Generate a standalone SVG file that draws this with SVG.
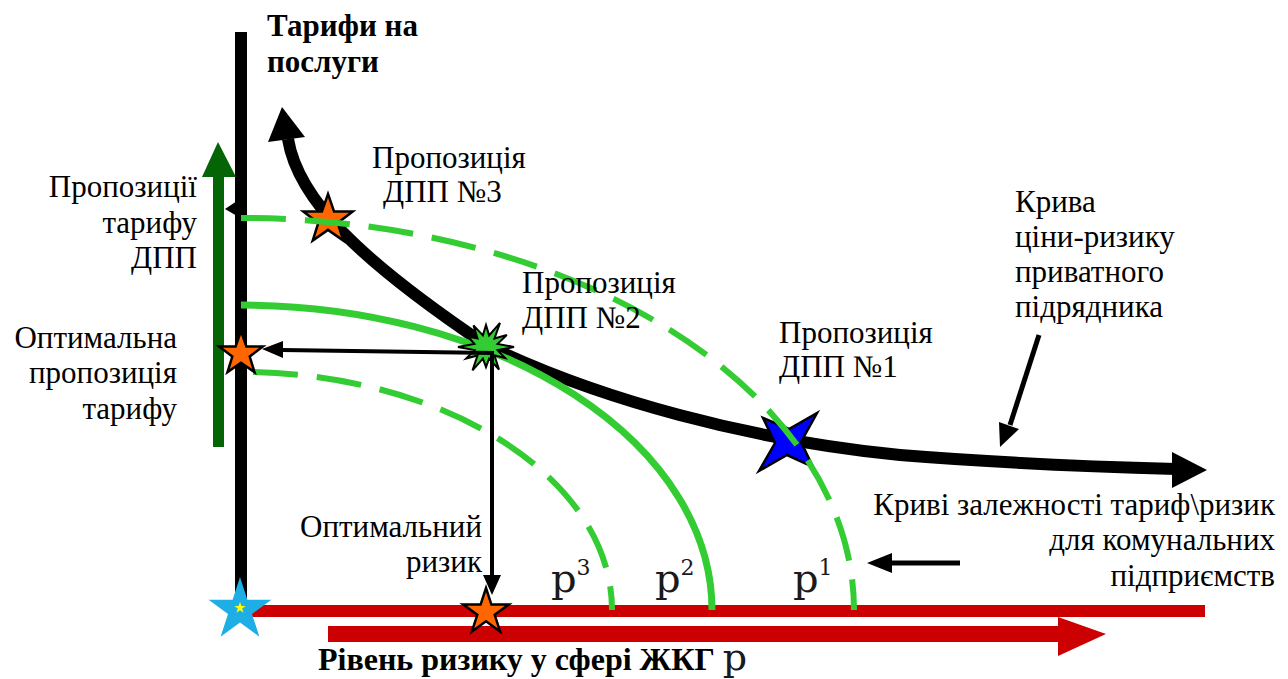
<svg xmlns="http://www.w3.org/2000/svg" width="1288" height="679" viewBox="0 0 1288 679">
<style>
.t{font-size:31px;fill:#000}
.b{font-weight:bold}
.e{text-anchor:end}
.gs{fill:none;stroke:#33CC33;stroke-width:7}
.gd{fill:none;stroke:#33CC33;stroke-width:6;stroke-dasharray:45 19}
.star{fill:#FF6600;stroke:#000;stroke-width:2.5;stroke-linejoin:miter}
</style>
<rect width="1288" height="679" fill="#fff"/>

<g id="axes">
  <rect x="235" y="32" width="12" height="575" fill="#000"/>
  <rect x="240" y="605" width="965" height="12" fill="#CC0000"/>
  <rect x="328" y="626" width="732" height="16" fill="#CC0000"/>
  <polygon points="1058,617 1106,634 1058,656" fill="#CC0000"/>
  <rect x="213" y="175" width="11" height="272" fill="#056405"/>
  <polygon points="202,177 218,142 236,177" fill="#056405"/>
  <polygon points="225,209 237,201 237,216" fill="#000"/>
</g>

<g id="connectors">
  <path d="M288,139 C298,200 360,260 486,345 C600,400 750,440 900,455 C1000,463 1100,467 1176,469" fill="none" stroke="#000" stroke-width="12"/>
  <polygon points="282,107 268,142 305,137" fill="#000"/>
  <polygon points="1172,452 1207,470 1172,488" fill="#000"/>
</g>

<g id="node-dpp1">
  <path d="M763,418 L789,429 L817,413 L801,442 L813,467 L787,455 L759,471 L775,443 Z" fill="#0000FF" stroke="#000" stroke-width="2.5"/>
</g>
<g id="node-dpp3">
  <polygon class="star" points="328,194 334.1,211.6 352.7,211.6 337.7,222.9 343.3,240.6 328,229.9 312.7,240.6 318.3,222.9 303.3,211.6 321.9,211.6"/>
</g>

<g id="curves">
  <path class="gs" d="M241,305 A472,305 0 0 1 712,610"/>
  <path class="gd" d="M241,218 A613,392 0 0 1 854,610"/>
  <path class="gd" d="M253,372 A372,238 0 0 1 612,610"/>
</g>

<g id="node-dpp2">
  <polygon fill="#33CC33" stroke="#000" stroke-width="2" points="514,347 497.6,350.1 505.1,358 494.5,355.5 499,369.5 489.1,358.6 486,367 482.9,358.6 472.5,370.4 477.5,355.5 466.1,358.5 474.4,350.1 458,347 474.4,343.9 467.8,336.5 477.5,338.5 473.5,325.4 482.9,335.4 486,325 489.1,335.4 500,322.8 494.5,338.5 506.8,335 497.6,343.9"/>
</g>

<g id="arrows">
  <line x1="282" y1="350" x2="493" y2="353" stroke="#000" stroke-width="4"/>
  <polygon points="262,349 283,341 283,358" fill="#000"/>
  <line x1="492" y1="351" x2="492" y2="578" stroke="#000" stroke-width="4"/>
  <polygon points="483,575 501,575 492,595" fill="#000"/>
  <line x1="1039" y1="335" x2="1010" y2="425" stroke="#000" stroke-width="5"/>
  <polygon points="1000,447 999,422 1019,429" fill="#000"/>
  <line x1="890" y1="563" x2="960" y2="563" stroke="#000" stroke-width="5"/>
  <polygon points="867,563 892,553 892,573" fill="#000"/>
</g>

<g id="node-optimal-tariff">
  <polygon class="star" points="241,331 246.4,346.5 262.9,346.5 249.7,356.5 254.5,372.1 241,362.7 227.5,372.1 232.3,356.5 219.1,346.5 235.6,346.5"/>
</g>
<g id="node-optimal-risk">
  <polygon class="star" points="486,588 491.4,604.6 508.8,604.6 494.7,614.8 500.1,631.4 486,621.2 471.9,631.4 477.3,614.8 463.2,604.6 480.6,604.6"/>
</g>
<g id="node-origin">
  <polygon fill="#1EAEE6" points="240,577 247.4,599.8 271.4,599.8 252,613.9 259.4,636.7 240,622.6 220.6,636.7 228,613.9 208.6,599.8 232.6,599.8"/>
  <polygon fill="#FFFF00" points="240,602 241.4,606.1 245.7,606.1 242.2,608.6 243.5,612.8 240,610.2 236.5,612.8 237.8,608.6 234.3,606.1 238.6,606.1"/>
</g>

<g id="labels" font-family="'Liberation Serif', 'Times New Roman', serif">
  <text class="t b" x="267" y="36">Тарифи на</text>
  <text class="t b" x="267" y="72">послуги</text>
  <text class="t" x="372" y="168">Пропозиція</text>
  <text class="t" x="383" y="202">ДПП №3</text>
  <text class="t e" x="197" y="197">Пропозиції</text>
  <text class="t e" x="197" y="233">тарифу</text>
  <text class="t e" x="197" y="268">ДПП</text>
  <text class="t e" x="177" y="348">Оптимальна</text>
  <text class="t e" x="177" y="383">пропозиція</text>
  <text class="t e" x="177" y="419">тарифу</text>
  <text class="t" x="522" y="293">Пропозиція</text>
  <text class="t" x="522" y="328">ДПП №2</text>
  <text class="t" x="779" y="343">Пропозиція</text>
  <text class="t" x="779" y="377">ДПП №1</text>
  <text class="t" x="1015" y="212">Крива</text>
  <text class="t" x="1015" y="247">ціни-ризику</text>
  <text class="t" x="1015" y="282">приватного</text>
  <text class="t" x="1015" y="317">підрядника</text>
  <text class="t e" x="1275" y="515">Криві залежності тариф\ризик</text>
  <text class="t e" x="1275" y="550">для комунальних</text>
  <text class="t e" x="1275" y="586">підприємств</text>
  <text class="t e" x="482" y="537">Оптимальний</text>
  <text class="t e" x="482" y="572">ризик</text>
  <text x="551" y="592" font-size="40" fill="#1a1a1a" font-family="'DejaVu Serif', serif">p<tspan font-size="22" dy="-17">3</tspan></text>
  <text x="655" y="592" font-size="40" fill="#1a1a1a" font-family="'DejaVu Serif', serif">p<tspan font-size="22" dy="-17">2</tspan></text>
  <text x="793" y="592" font-size="40" fill="#1a1a1a" font-family="'DejaVu Serif', serif">p<tspan font-size="22" dy="-17">1</tspan></text>
  <text class="b" x="318" y="670" font-size="32">Рівень ризику у сфері ЖКГ <tspan font-weight="normal" font-size="38" fill="#1a1a1a" font-family="'DejaVu Serif', serif">p</tspan></text>
</g>
</svg>
